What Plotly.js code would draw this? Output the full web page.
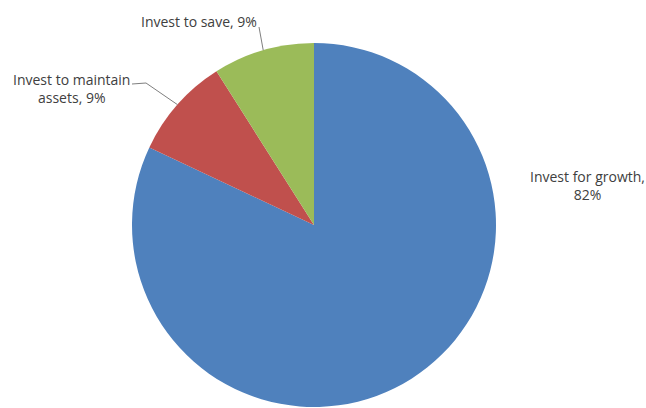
<!DOCTYPE html>
<html><head><meta charset="utf-8">
<script src="https://cdn.plot.ly/plotly-3.0.1.min.js"></script>
<style>html,body{margin:0;padding:0;background:#fff;overflow:hidden}</style>
</head><body>
<div id="chart" style="width:646px;height:408px"></div>
<script>
const categories = ["Invest for growth", "Invest to maintain assets", "Invest to save"];
const shares = [82, 9, 9];
const sliceColors = ["#4F81BD", "#C0504D", "#9BBB59"];
const labelTexts = ["Invest for growth,<br>82%", "Invest to maintain<br>assets, 9%", "Invest to save, 9%"];

const W = 646, H = 408;
const cx = 314, cy = 225, R = 182;
const px = x => x / W, py = y => 1 - y / H;

// label centres (layout) and leader-line anchor points near the text
const labelPos = [[587, 186], [71, 88.5], [199, 21]];
const leaderText = [null, [[132, 84], [146, 83]], [[259, 27]]];

const total = shares.reduce((a, b) => a + b, 0);
let cum = 0;
const shapes = [];
const annotations = [];
shares.forEach((v, i) => {
  const mid = (cum + v / 2) / total;
  cum += v;
  const th = 2 * Math.PI * mid;
  const ex = cx + R * Math.sin(th), ey = cy - R * Math.cos(th);
  annotations.push({
    text: labelTexts[i], x: px(labelPos[i][0]), y: py(labelPos[i][1]),
    xref: 'paper', yref: 'paper', xanchor: 'center', yanchor: 'middle',
    align: 'center', showarrow: false,
    font: {family: '"Open Sans", sans-serif', size: 14, color: '#404040'}
  });
  const pts = leaderText[i];
  if (pts) {
    const chain = pts.concat([[ex, ey]]);
    for (let k = 0; k < chain.length - 1; k++) {
      shapes.push({type: 'line', xref: 'paper', yref: 'paper',
        x0: px(chain[k][0]), y0: py(chain[k][1]),
        x1: px(chain[k + 1][0]), y1: py(chain[k + 1][1]),
        line: {color: '#7f7f7f', width: 1}});
    }
  }
});

const data = [{
  type: 'pie', labels: categories, values: shares, sort: false,
  direction: 'clockwise', rotation: 0, textinfo: 'none', hoverinfo: 'label+percent',
  marker: {colors: sliceColors, line: {width: 0}},
  domain: {x: [px(cx - R), px(cx + R)], y: [py(cy + R), py(cy - R)]},
  showlegend: false
}];

const layout = {
  width: W, height: H, margin: {l: 0, r: 0, t: 0, b: 0},
  paper_bgcolor: '#fff', showlegend: false,
  shapes: shapes, annotations: annotations
};
Plotly.newPlot('chart', data, layout, {displayModeBar: false, staticPlot: true});
</script>
</body></html>
